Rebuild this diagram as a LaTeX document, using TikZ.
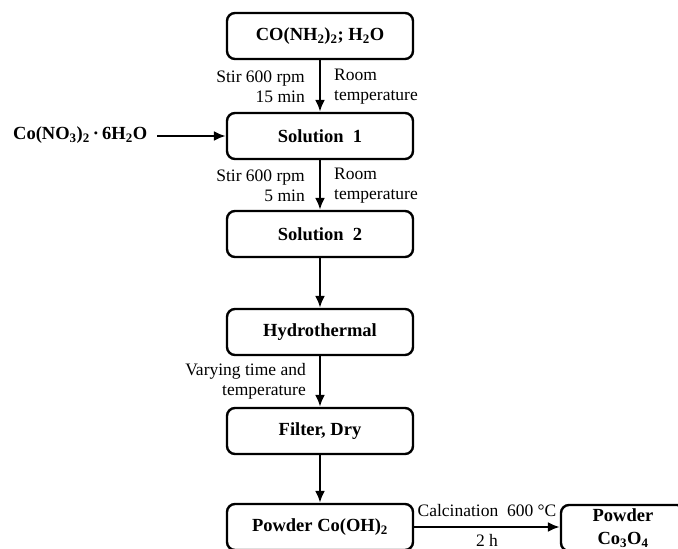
\documentclass[tikz,border=0pt]{standalone}
\usepackage{fontspec}
\setmainfont{Liberation Serif}
\usetikzlibrary{arrows.meta,positioning}
\tikzset{
  stepbox/.style={draw=black,line width=2.4pt,rounded corners=8pt,minimum width=186pt,minimum height=46pt,
    align=center,inner sep=2pt,font=\fontsize{18.5}{19}\selectfont\bfseries,fill=white},
  flow/.style={-{Latex[length=12pt,width=10pt]},line width=2.2pt},
  notel/.style={font=\fontsize{17.5}{20}\selectfont,align=left,anchor=west,inner sep=0pt},
  noter/.style={font=\fontsize{17.5}{20}\selectfont,align=right,anchor=east,inner sep=0pt},
  notec/.style={font=\fontsize{17.5}{20}\selectfont,inner sep=0pt}
}
\begin{document}
\begin{tikzpicture}[x=1pt,y=-1pt]
  \useasboundingbox (0,0) rectangle (678,549);
  \node[stepbox] (urea) at (320,36) {CO(NH\textsubscript{2})\textsubscript{2}; H\textsubscript{2}O};
  \node[stepbox] (sol1) at (320,136) {Solution\ \ 1};
  \node[stepbox] (sol2) at (320,234) {Solution\ \ 2};
  \node[stepbox] (hydro) at (320,332) {Hydrothermal};
  \node[stepbox] (filter) at (320,431) {Filter, Dry};
  \node[stepbox] (cooh) at (320,527) {Powder Co(OH)\textsubscript{2}};
  \node[stepbox,minimum width=124pt,font=\fontsize{18.5}{23}\selectfont\bfseries] (coox) at (623,528)
    {Powder\\Co\textsubscript{3}O\textsubscript{4}};
  \node[font=\fontsize{18.5}{19}\selectfont\bfseries,anchor=west,inner sep=0pt] (cono) at (13,135)
    {Co(NO\textsubscript{3})\textsubscript{2}\,{\textperiodcentered}\,6H\textsubscript{2}O};
  % main line
  \draw[flow] (urea) -- (sol1);
  \draw[flow] (cono.east) ++(10,1) coordinate (conoend) -- (sol1.west |- conoend);
  \draw[flow] (sol1) -- (sol2);
  \draw[flow] (sol2) -- (hydro);
  \draw[flow] (hydro) -- (filter);
  \draw[flow] (filter) -- (cooh);
  \draw[flow] (cooh) -- (coox.west |- cooh);
  % conditions
  \node[noter] (stira) at (305,87) {Stir 600 rpm\\15 min};
  \node[notel] (rooma) at (334,87) {Room\\temperature};
  \node[noter] (stirb) at (305,186) {Stir 600 rpm\\5 min};
  \node[notel] (roomb) at (334,186) {Room\\temperature};
  \node[noter] (vary) at (306,381) {Varying time and\\temperature};
  \node[notec] (calc) at (487,511) {Calcination\ \ 600 °C};
  \node[notec] (hours) at (487,540) {2 h};
\end{tikzpicture}
\end{document}
